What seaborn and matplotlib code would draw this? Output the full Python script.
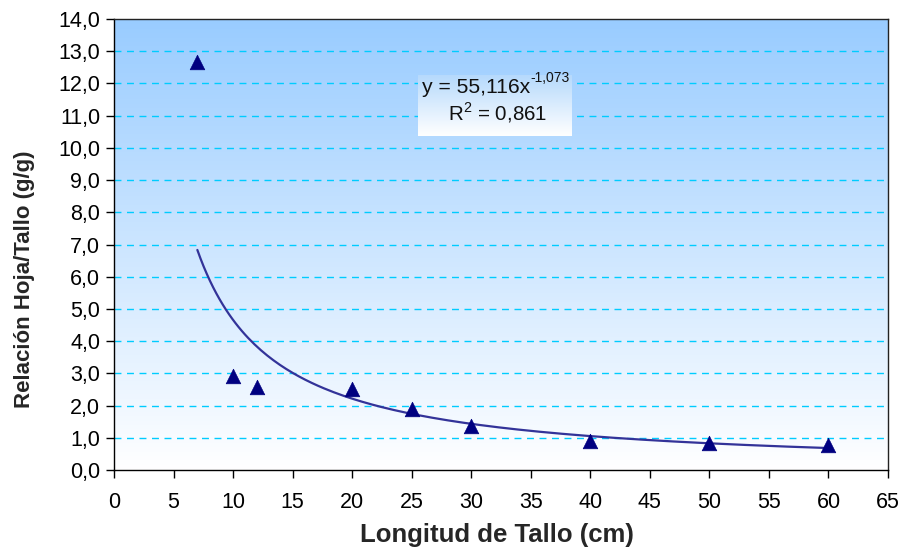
import numpy as np
import pandas as pd
import matplotlib
matplotlib.use("Agg")
import matplotlib.pyplot as plt
from matplotlib.colors import LinearSegmentedColormap
from matplotlib.ticker import FuncFormatter
import seaborn as sns

# Data
longitud = [7, 10, 12, 20, 25, 30, 40, 50, 60]
relacion = [12.67, 2.93, 2.58, 2.50, 1.90, 1.37, 0.90, 0.84, 0.78]
coef_a = 55.116
coef_b = -1.073
eq_main = "y = 55,116x"
eq_exp = "-1,073"
r2_text = "0,861"
x_ticks = list(range(0, 70, 5))
y_ticks = [i * 1.0 for i in range(0, 15)]

sns.set_theme(style="white")
plt.rcParams['font.family'] = ['Liberation Sans', 'DejaVu Sans']

fig = plt.figure(figsize=(9.03, 5.51), dpi=100)
ax = fig.add_axes([114/903, 1 - 470/551, (888-114)/903, (470-19)/551])

# gradient background (white at bottom, light blue at top)
cmap = LinearSegmentedColormap.from_list("bg", ["#FFFFFF", "#99CCFF"])
grad = np.linspace(0, 1, 256).reshape(-1, 1)
ax.imshow(grad, cmap=cmap, aspect="auto", extent=[0, 65, 0, 14], origin="lower", zorder=0)

df = pd.DataFrame({"x": longitud, "y": relacion})

# trendline (power fit as displayed)
xs = np.linspace(min(longitud), max(longitud), 200)
trend = pd.DataFrame({"x": xs, "y": coef_a * xs ** coef_b})
sns.lineplot(data=trend, x="x", y="y", ax=ax, color="#333399", lw=1.6, zorder=3)

sns.scatterplot(data=df, x="x", y="y", ax=ax, marker="^", s=110, color="#000080",
                edgecolor="#000080", linewidth=0.5, zorder=4)

ax.set_xlim(0, 65)
ax.set_ylim(0, 14)
ax.set_xticks(x_ticks)
ax.set_yticks(y_ticks)
ax.yaxis.set_major_formatter(FuncFormatter(lambda v, p: f"{v:.1f}".replace(".", ",")))

for yv in y_ticks[1:-1]:
    ax.axhline(yv, color="#00CCFF", lw=1.0, ls=(0, (5, 4)), zorder=1)

for s in ax.spines.values():
    s.set_color("black")
    s.set_linewidth(1.0)
    s.set_visible(True)
ax.spines["top"].set_color("#222222")
ax.spines["right"].set_color("#222222")

ax.tick_params(axis="both", which="major", direction="out", length=6, width=1,
               color="black", labelsize=15.5, labelcolor="black", bottom=True, left=True)
ax.tick_params(axis="x", pad=10)
ax.tick_params(axis="y", pad=4)

ax.set_xlabel("Longitud de Tallo (cm)", fontsize=18.5, fontweight="bold")
ax.set_ylabel("Relación Hoja/Tallo (g/g)", fontsize=16, fontweight="bold")
ax.xaxis.set_label_coords((497 - 114) / 774, (470 - 535) / 451)
ax.yaxis.set_label_coords((25 - 114) / 774, (470 - 279) / 451)
ax.xaxis.label.set_va("center")
ax.yaxis.label.set_va("center")

# equation box
bx0, by0, bw, bh = 418/903, 1 - 136/551, (572-418)/903, (136-75)/551
box_ax = fig.add_axes([bx0, by0, bw, bh])
box_ax.imshow(np.linspace(0, 1, 64).reshape(-1, 1),
              cmap=LinearSegmentedColormap.from_list("b2", ["#FFFFFF", "#B5D9FC"]),
              aspect="auto", extent=[0, 1, 0, 1], origin="lower")
box_ax.set_xlim(0, 1)
box_ax.set_ylim(0, 1)
box_ax.set_axis_off()
t_main = box_ax.text(4/154, 0.71, eq_main, ha="left", va="baseline",
                     fontsize=15.2, color="#111111", transform=box_ax.transAxes)
box_ax.annotate(eq_exp, xy=(1.0, 0.62), xycoords=t_main, ha="left", va="bottom",
                fontsize=10, color="#111111")
box_ax.text(30/154, 0.26, r"R$^{\mathregular{2}}$ = " + r2_text, ha="left", va="baseline",
            fontsize=14.8, color="#111111", transform=box_ax.transAxes)

fig.savefig("out.png", dpi=100)
